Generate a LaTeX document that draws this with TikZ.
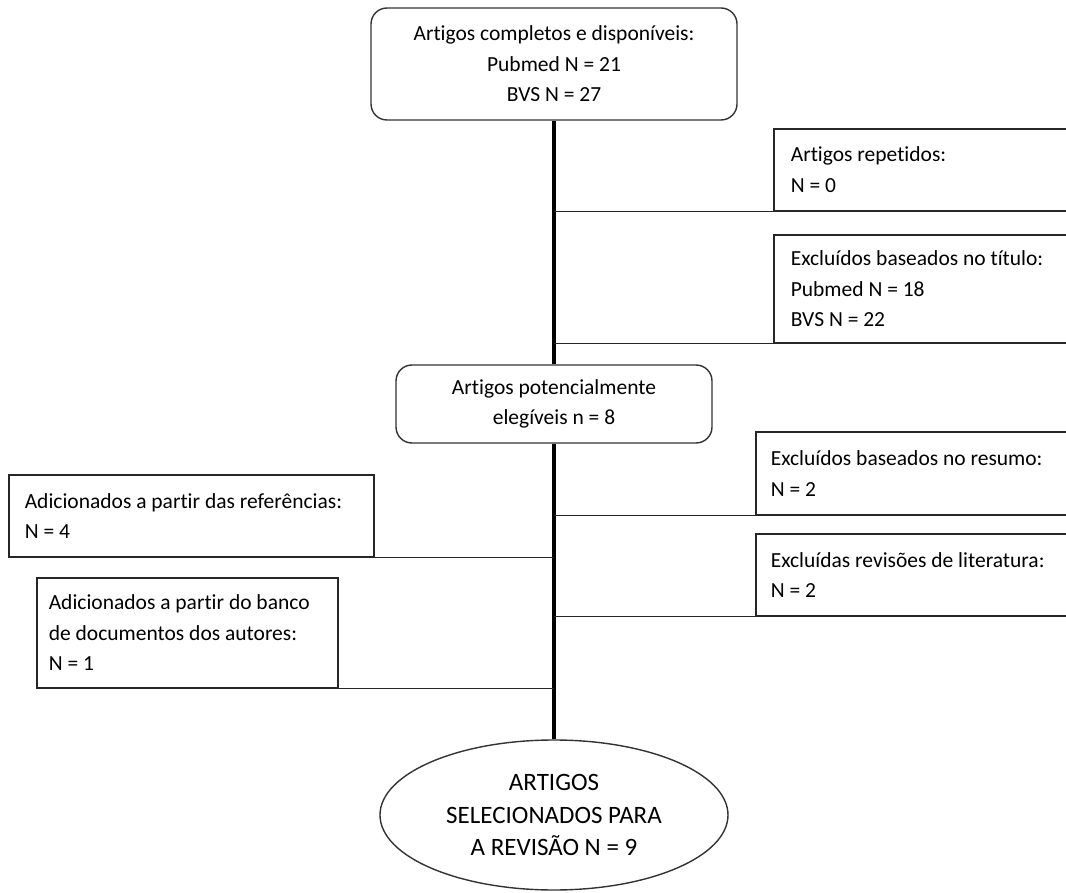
\documentclass[tikz,border=0pt]{standalone}
\usepackage{fontspec}
\setmainfont{Carlito}[Ligatures={NoCommon}]
\usetikzlibrary{shapes.geometric}
\begin{document}
\begin{tikzpicture}[x=1pt,y=-1pt,
  every node/.style={font=\fontsize{21.5}{30.5}\selectfont, text=black},
  line/.style={line width=1.6pt, draw=black!85},
  trunk/.style={line width=4pt, draw=black},
  rbox/.style={draw=black!85, line width=1.6pt, fill=white, rectangle, anchor=north west, align=flush left, inner ysep=0pt},
  rnd/.style={draw=black!80, line width=1.4pt, fill=white, rectangle, rounded corners=16pt, align=center, inner sep=0pt},
  ell/.style={draw=black!80, line width=1.4pt, fill=white, ellipse, align=center, inner sep=0pt, font=\fontsize{25}{32.5}\selectfont}
]
\useasboundingbox (0,0) rectangle (1066,893);
\clip (0,0) rectangle (1066,893);
\fill[white] (0,0) rectangle (1066,893);

\node[rnd, minimum width=366pt, minimum height=112pt] (top) at (554,64)
  {Artigos completos e disponíveis:\\Pubmed N = 21\\BVS N = 27};
\node[rnd, minimum width=316pt, minimum height=78pt] (mid) at (554,404)
  {Artigos potencialmente\\elegíveis n = 8};
\node[ell, minimum width=348pt, minimum height=150pt] (end) at (554,815)
  {ARTIGOS\\SELECIONADOS PARA\\A REVISÃO N = 9};

\node[rbox, inner xsep=17pt, text width=296pt, minimum height=82pt] (r1) at (773,128)
  {Artigos repetidos:\\N = 0};
\node[rbox, inner xsep=17pt, text width=296pt, minimum height=108pt] (r2) at (773,234)
  {Excluídos baseados no título:\\Pubmed N = 18\\BVS N = 22};
\node[rbox, inner xsep=15pt, text width=316pt, minimum height=83pt] (r3) at (755,431)
  {Excluídos baseados no resumo:\\N = 2};
\node[rbox, inner xsep=15pt, text width=316pt, minimum height=82pt] (r4) at (755,533)
  {Excluídas revisões de literatura:\\N = 2};

\node[rbox, inner xsep=16pt, text width=333pt, minimum height=82pt] (l1) at (8,474)
  {Adicionados a partir das referências:\\N = 4};
\node[rbox, inner xsep=12pt, text width=277pt, minimum height=110pt] (l2) at (36,577)
  {Adicionados a partir do banco\\de documentos dos autores:\\N = 1};

\draw[trunk] (top.south) -- (mid.north);
\draw[trunk] (mid.south) -- (end.north);

\draw[line] (top.south |- r1.south west) -- (r1.south west);
\draw[line] (top.south |- r2.south west) -- (r2.south west);
\draw[line] (top.south |- r3.south west) -- (r3.south west);
\draw[line] (top.south |- r4.south west) -- (r4.south west);
\draw[line] (top.south |- l1.south east) -- (l1.south east);
\draw[line] (top.south |- l2.south east) -- (l2.south east);
\end{tikzpicture}
\end{document}
